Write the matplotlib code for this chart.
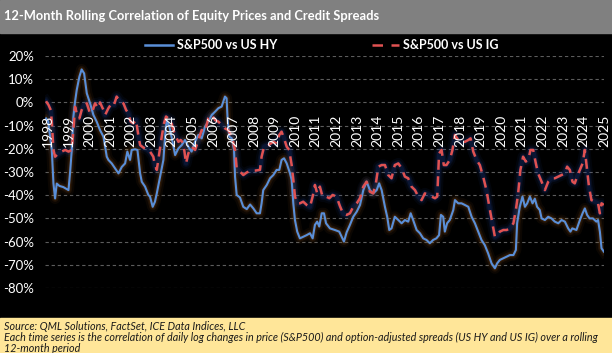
import matplotlib
matplotlib.use("Agg")
import matplotlib.pyplot as plt
from matplotlib.lines import Line2D
from matplotlib.patches import Rectangle

plt.rcParams['font.family'] = ['Lato', 'DejaVu Sans']

# S&P500 vs US HY (solid blue), decimal years
hy_x = [1997.90, 1998.00, 1998.18, 1998.26, 1998.34, 1998.42, 1998.55, 1998.74, 1998.99, 1999.07,
        1999.15, 1999.23, 1999.31, 1999.39, 1999.52, 1999.63, 1999.75, 1999.88, 2000.04, 2000.20,
        2000.36, 2000.52, 2000.69, 2000.85, 2000.93, 2001.09, 2001.25, 2001.42, 2001.58, 2001.74,
        2001.85, 2001.98, 2002.06, 2002.22, 2002.34, 2002.47, 2002.55, 2002.71, 2002.87, 2002.95,
        2003.08, 2003.19, 2003.28, 2003.44, 2003.60, 2003.68, 2003.76, 2003.89, 2004.00, 2004.17,
        2004.33, 2004.49, 2004.65, 2004.81, 2004.97, 2005.14, 2005.30, 2005.46, 2005.62, 2005.78,
        2005.95, 2006.11, 2006.27, 2006.43, 2006.59, 2006.67, 2006.72, 2006.80, 2006.92, 2007.03,
        2007.08, 2007.16, 2007.32, 2007.48, 2007.65, 2007.81, 2007.97, 2008.13, 2008.29, 2008.37,
        2008.45, 2008.62, 2008.78, 2008.94, 2009.10, 2009.23, 2009.34, 2009.46, 2009.59, 2009.75,
        2009.83, 2009.91, 2009.99, 2010.10, 2010.23, 2010.39, 2010.56, 2010.72, 2010.85, 2010.96,
        2011.07, 2011.17, 2011.29, 2011.40, 2011.50, 2011.69, 2011.93, 2012.14, 2012.26, 2012.37,
        2012.50, 2012.66, 2012.82, 2012.99, 2013.15, 2013.31, 2013.47, 2013.63, 2013.79, 2013.96,
        2014.08, 2014.20, 2014.36, 2014.47, 2014.57, 2014.68, 2014.84, 2015.01, 2015.17, 2015.33,
        2015.49, 2015.61, 2015.73, 2015.90, 2016.06, 2016.22, 2016.38, 2016.54, 2016.70, 2016.86,
        2016.99, 2017.08, 2017.19, 2017.27, 2017.38, 2017.51, 2017.68, 2017.76, 2017.92, 2018.08,
        2018.24, 2018.41, 2018.57, 2018.73, 2018.89, 2019.05, 2019.21, 2019.37, 2019.54, 2019.70,
        2019.81, 2019.94, 2020.11, 2020.27, 2020.43, 2020.60, 2020.72, 2020.78, 2020.91, 2021.04,
        2021.16, 2021.27, 2021.40, 2021.53, 2021.64, 2021.75, 2021.88, 2021.97, 2022.13, 2022.29,
        2022.45, 2022.61, 2022.78, 2022.94, 2023.10, 2023.26, 2023.37, 2023.46, 2023.66, 2023.83,
        2023.96, 2024.07, 2024.18, 2024.30, 2024.46, 2024.63, 2024.71, 2024.80, 2024.88, 2024.99]
hy_y = [-6.9, -8.0, -20.5, -34.9, -41.4, -35.0, -36.0, -36.5, -37.8, -30.0,
        -20.5, -6.1, 0.3, 5.3, 11.1, 14.2, 12.5, 3.9, -0.4, -5.4,
        -8.3, -11.9, -14.8, -23.4, -24.8, -26.3, -28.4, -30.6, -27.8, -26.3,
        -21.2, -24.8, -20.5, -20.2, -20.5, -30.6, -34.2, -36.3, -39.9, -40.6,
        -45.0, -42.8, -39.2, -32.0, -24.8, -14.8, -7.6, -10.5, -15.0, -22.7,
        -19.8, -18.4, -16.2, -19.1, -21.2, -16.9, -14.0, -15.5, -10.5, -8.3,
        -5.4, -4.0, -2.5, -1.8, 2.5, 1.8, -7.6, -14.8, -15.5, -20.5,
        -32.0, -39.9, -41.0, -45.0, -46.0, -44.0, -45.7, -47.8, -47.8, -43.5,
        -37.8, -35.6, -32.7, -31.3, -29.1, -29.1, -24.8, -24.1, -26.3, -30.6,
        -33.4, -43.5, -50.7, -55.7, -58.6, -57.9, -57.2, -56.4, -58.6, -52.8,
        -51.4, -53.5, -47.8, -47.8, -52.1, -54.3, -55.0, -55.7, -57.9, -60.0,
        -56.0, -52.8, -49.3, -47.1, -44.2, -37.8, -34.2, -37.8, -39.2, -37.8,
        -34.9, -37.8, -45.0, -49.3, -55.0, -54.3, -49.3, -50.7, -52.1, -50.7,
        -51.4, -47.8, -50.7, -55.0, -56.4, -58.6, -59.3, -60.7, -59.3, -58.6,
        -57.2, -48.5, -49.3, -55.7, -52.1, -50.7, -46.4, -42.1, -43.5, -43.5,
        -44.2, -45.0, -49.3, -52.1, -55.7, -59.3, -61.5, -65.0, -69.4, -71.5,
        -69.4, -67.9, -67.2, -66.5, -65.8, -65.8, -63.6, -52.1, -45.0, -40.6,
        -45.0, -43.5, -40.6, -43.5, -41.5, -45.0, -46.4, -50.0, -50.7, -49.3,
        -50.0, -51.4, -52.1, -50.7, -51.4, -54.3, -55.7, -54.3, -55.0, -50.7,
        -47.8, -45.7, -48.5, -50.0, -50.0, -51.4, -50.7, -55.7, -62.9, -64.3]

# S&P500 vs US IG (dashed red)
ig_x = [1997.90, 1998.02, 1998.13, 1998.18, 1998.26, 1998.34, 1998.50, 1998.66, 1998.83, 1998.99,
        1999.15, 1999.23, 1999.31, 1999.39, 1999.52, 1999.63, 1999.75, 1999.88, 2000.01, 2000.12,
        2000.28, 2000.44, 2000.52, 2000.69, 2000.77, 2000.93, 2001.09, 2001.20, 2001.33, 2001.50,
        2001.66, 2001.79, 2001.90, 2002.01, 2002.14, 2002.27, 2002.38, 2002.47, 2002.63, 2002.79,
        2002.95, 2003.11, 2003.19, 2003.28, 2003.40, 2003.52, 2003.63, 2003.73, 2003.84, 2003.96,
        2004.08, 2004.21, 2004.33, 2004.44, 2004.57, 2004.70, 2004.81, 2004.97, 2005.14, 2005.30,
        2005.46, 2005.62, 2005.78, 2005.95, 2006.11, 2006.27, 2006.43, 2006.59, 2006.75, 2006.92,
        2007.08, 2007.16, 2007.32, 2007.48, 2007.65, 2007.81, 2008.05, 2008.29, 2008.37, 2008.49,
        2008.70, 2008.94, 2009.10, 2009.23, 2009.34, 2009.46, 2009.59, 2009.71, 2009.83, 2009.91,
        2009.99, 2010.10, 2010.23, 2010.39, 2010.56, 2010.72, 2010.85, 2010.96, 2011.07, 2011.20,
        2011.33, 2011.50, 2011.66, 2011.82, 2012.01, 2012.17, 2012.33, 2012.50, 2012.66, 2012.82,
        2012.99, 2013.15, 2013.31, 2013.47, 2013.63, 2013.79, 2013.92, 2014.04, 2014.20, 2014.36,
        2014.52, 2014.68, 2014.84, 2015.01, 2015.17, 2015.33, 2015.49, 2015.65, 2015.82, 2015.98,
        2016.14, 2016.30, 2016.46, 2016.63, 2016.79, 2016.90, 2016.99, 2017.11, 2017.22, 2017.35,
        2017.51, 2017.64, 2017.76, 2017.92, 2018.08, 2018.24, 2018.41, 2018.52, 2018.65, 2018.81,
        2018.97, 2019.13, 2019.29, 2019.46, 2019.58, 2019.70, 2019.81, 2019.94, 2020.11, 2020.27,
        2020.43, 2020.60, 2020.72, 2020.83, 2020.94, 2021.07, 2021.20, 2021.32, 2021.43, 2021.56,
        2021.69, 2021.80, 2021.97, 2022.13, 2022.29, 2022.45, 2022.61, 2022.78, 2022.94, 2023.10,
        2023.21, 2023.34, 2023.47, 2023.58, 2023.69, 2023.83, 2023.96, 2024.07, 2024.18, 2024.27,
        2024.39, 2024.55, 2024.71, 2024.80, 2024.88, 2024.99]
ig_y = [0.5, -1.1, -3.3, -8.3, -20.5, -23.4, -22.0, -21.2, -20.5, -21.2,
        -20.5, -11.9, -1.9, -4.7, -6.9, -3.3, -1.1, -0.4, -4.0, -4.7,
        -0.4, -2.5, 0.0, -3.3, -5.4, -2.5, -0.4, -1.1, 2.5, 0.3,
        -0.4, -3.3, -4.7, -8.3, -9.0, -7.6, -14.0, -18.4, -19.5, -20.0,
        -21.2, -23.4, -27.0, -29.1, -22.0, -14.8, -9.0, -6.1, -6.9, -7.6,
        -11.9, -14.8, -17.0, -16.2, -17.7, -26.3, -22.0, -19.1, -20.5, -16.2,
        -11.9, -12.6, -6.9, -5.4, -7.6, -8.3, -9.7, -11.2, -11.9, -14.8,
        -20.5, -28.4, -29.8, -31.3, -30.2, -29.5, -29.4, -29.1, -23.4, -19.1,
        -18.4, -17.0, -17.7, -14.0, -12.6, -15.5, -19.1, -20.5, -27.0, -33.4,
        -40.6, -43.5, -43.5, -42.8, -44.2, -45.0, -40.6, -35.6, -39.2, -36.3,
        -40.6, -40.6, -41.3, -39.9, -40.6, -44.6, -48.0, -48.5, -47.8, -45.0,
        -43.5, -41.3, -36.3, -34.2, -38.5, -39.2, -34.9, -27.7, -27.0, -27.0,
        -31.3, -32.7, -27.0, -26.3, -28.4, -32.0, -32.7, -36.3, -37.8, -40.6,
        -42.1, -39.2, -39.9, -40.6, -41.3, -40.6, -22.0, -20.5, -27.0, -27.0,
        -24.8, -20.5, -14.0, -16.2, -17.0, -17.0, -16.2, -15.5, -21.2, -24.8,
        -27.0, -32.0, -37.8, -46.4, -52.1, -57.9, -57.2, -55.7, -55.0, -55.0,
        -54.3, -52.1, -46.4, -39.2, -29.1, -23.4, -25.5, -24.8, -20.5, -20.5,
        -26.3, -30.6, -34.2, -37.8, -34.2, -32.7, -32.7, -32.0, -31.3, -30.6,
        -27.7, -29.1, -34.2, -34.9, -32.0, -29.1, -26.3, -20.5, -29.1, -36.3,
        -42.1, -42.8, -43.5, -47.8, -43.5, -44.2]

years = list(range(1998, 2026))
yticks = list(range(-80, 21, 10))

series_names = ["S&P500 vs US HY", "S&P500 vs US IG"]
title = "12-Month Rolling Correlation of Equity Prices and Credit Spreads"
source = "Source: QML Solutions, FactSet, ICE Data Indices, LLC"
note1 = ("Each time series is the correlation of daily log changes in price (S&P500) and "
         "option-adjusted spreads (US HY and US IG) over a rolling")
note2 = "12-month period"

BLUE = '#5a8fd8'
RED = '#e05252'
DASH = (4.0, 2.6)

W, H = 612, 353
fig = plt.figure(figsize=(W / 100, H / 100), dpi=100, facecolor='black')

# header bar and yellow footer
fig.patches.append(Rectangle((0, 1 - 33 / H), 1, 33 / H, transform=fig.transFigure,
                             color='#808080', zorder=0))
fig.patches.append(Rectangle((0, 0), 1, 35 / H, transform=fig.transFigure,
                             color='#ffe699', zorder=0))

ax = fig.add_axes([45 / W, (H - 288) / H, (604 - 45) / W, (288 - 56) / H])
ax.set_facecolor('black')
ax.set_xlim(1997.85, 2025.0)
ax.set_ylim(-80, 20)
for s in ax.spines.values():
    s.set_visible(False)
ax.set_xticks([])
ax.set_yticks(yticks)
ax.set_yticklabels([f'{v}%' for v in yticks])
ax.tick_params(axis='y', length=0, pad=8, labelcolor='white', labelsize=9.5)
ax.grid(axis='y', color='#5c5c5c', lw=0.8, ls=(0, (3, 2.5)))
ax.set_axisbelow(True)

# soft glow behind each line (excel style)
for w, a in [(8, 0.07), (5, 0.12), (3, 0.16)]:
    ax.plot(hy_x, hy_y, color='#a0601e', lw=w, alpha=a, solid_joinstyle='round', zorder=2)
    ax.plot(ig_x, ig_y, color='#2448a8', lw=w, alpha=a, solid_joinstyle='round', zorder=2)

ax.plot(hy_x, hy_y, color=BLUE, lw=1.5, zorder=3)
ax.plot(ig_x, ig_y, color=RED, lw=1.8, dashes=DASH, zorder=3)

year_txt = [ax.text(yr, -19.2, str(yr), rotation=90, ha='center', va='bottom',
                    color='white', fontsize=10, zorder=5) for yr in years]

handles = [Line2D([], [], color=BLUE, lw=1.8),
           Line2D([], [], color=RED, lw=1.8, dashes=(4.2, 3.4))]
fig.legend(handles, series_names, loc='center', bbox_to_anchor=(322 / W, 1 - 45 / H),
           ncol=2, frameon=False, labelcolor='white', prop={'weight': 'bold', 'size': 9},
           handlelength=2.2, handletextpad=0.3, columnspacing=7.6)

t_title = fig.text(4 / W, 1 - 16.5 / H, title, color='white', fontweight='bold',
                   fontsize=11, va='center', ha='left')
t_src = fig.text(4 / W, 1 - 326 / H, source, color='#1a1a1a', style='italic',
                 fontsize=8, va='center', ha='left')
t_n1 = fig.text(4 / W, 1 - 337.5 / H, note1, color='#1a1a1a', style='italic',
                fontsize=8, va='center', ha='left')
t_n2 = fig.text(4 / W, 1 - 349 / H, note2, color='#1a1a1a', style='italic',
                fontsize=8, va='center', ha='left')

# scale fonts so the long texts span the same width as in the original
r = fig.canvas.get_renderer()
def fit(t, px):
    t.set_fontsize(t.get_fontsize() * px / t.get_window_extent(r).width)

fit(t_title, 374)
fit(t_n1, 597)
for t in (t_src, t_n2):
    t.set_fontsize(t_n1.get_fontsize())

# year labels end just above the -20% line
px_per_pct = (288 - 56) / 100
for t in year_txt:
    bb = t.get_window_extent(r)
    x, y = t.get_position()
    t.set_position((x, y + ((H - 147) - bb.y0) / px_per_pct))

fig.savefig('out.png', dpi=100, facecolor=fig.get_facecolor())
